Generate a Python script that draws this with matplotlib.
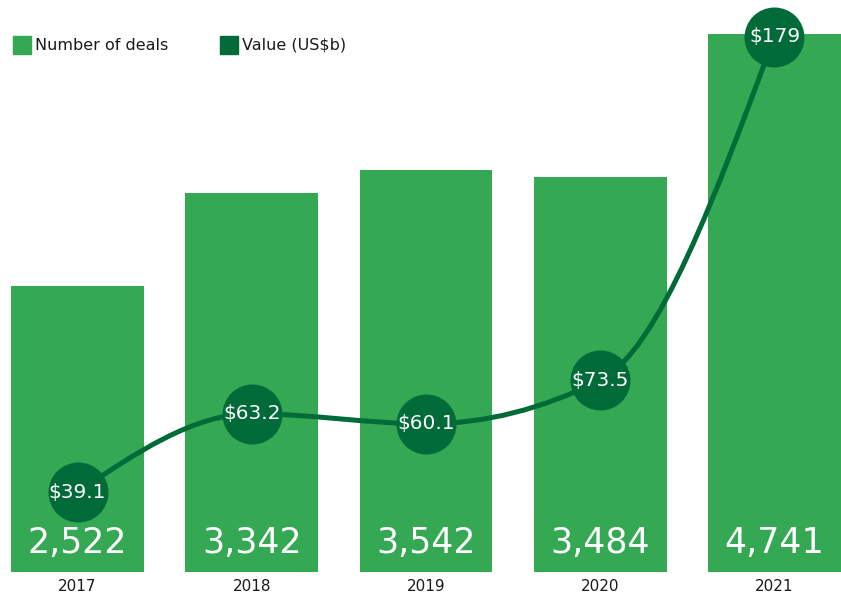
import matplotlib
matplotlib.use('Agg')
import matplotlib.pyplot as plt
from matplotlib.path import Path
from matplotlib.patches import PathPatch, Rectangle

years = ['2017', '2018', '2019', '2020', '2021']
deals = [2522, 3342, 3542, 3484, 4741]
values = [39.1, 63.2, 60.1, 73.5, 179]
value_labels = ['$39.1', '$63.2', '$60.1', '$73.5', '$179']
legend_labels = ['Number of deals', 'Value (US$b)']

LIGHT = '#34A853'
DARK = '#006B38'
TEXT = '#1a1a1a'
plt.rcParams['font.family'] = ['DejaVu Sans']

W, H = 841, 597
fig = plt.figure(figsize=(W / 100, H / 100), dpi=100)
ax = fig.add_axes([11 / W, 25 / H, 830 / W, 567 / H])
xs = list(range(len(years)))
ax.bar(xs, deals, width=0.763, color=LIGHT, zorder=1)
ax.set_xlim(-0.3817, 4.3817)
ax.set_ylim(0, 5000)
for s in ax.spines.values():
    s.set_visible(False)
ax.set_yticks([])
ax.set_xticks(xs)
ax.set_xticklabels(years, fontsize=11, color=TEXT)
ax.tick_params(axis='x', length=0, pad=5)

for i, d in zip(xs, deals):
    ax.annotate(f'{d:,}', xy=(i, 0), xytext=(0, 21), textcoords='offset points',
                ha='center', va='center', fontsize=25, color='white')

ax2 = ax.twinx()
ax2.set_ylim(14.6, 188.7)
ax2.set_axis_off()

# smooth monotone-x cubic curve through the data points (drawn as Bezier)
n = len(xs)
sl = [(values[i + 1] - values[i]) / (xs[i + 1] - xs[i]) for i in range(n - 1)]
m = [0.0] * n
for i in range(1, n - 1):
    s0, s1 = sl[i - 1], sl[i]
    if s0 * s1 <= 0:
        m[i] = 0.0
    else:
        p = (s0 + s1) / 2
        sgn = 1 if s0 > 0 else -1
        m[i] = 2 * sgn * min(abs(s0), abs(s1), 0.5 * abs(p))
m[0] = (3 * sl[0] - m[1]) / 2
m[-1] = (3 * sl[-1] - m[-2]) / 2
verts = [(xs[0], values[0])]
codes = [Path.MOVETO]
for i in range(n - 1):
    h = xs[i + 1] - xs[i]
    verts += [(xs[i] + h / 3, values[i] + m[i] * h / 3),
              (xs[i + 1] - h / 3, values[i + 1] - m[i + 1] * h / 3),
              (xs[i + 1], values[i + 1])]
    codes += [Path.CURVE4] * 3
ax2.add_patch(PathPatch(Path(verts, codes), facecolor='none', edgecolor=DARK,
                        lw=3.6, capstyle='round', zorder=2))
ax2.scatter(xs, values, s=1866, color=DARK, zorder=3, linewidths=0)
for i, v, lab in zip(xs, values, value_labels):
    ax2.text(i, v, lab, ha='center', va='center', fontsize=14.5, color='white', zorder=4)

# legend
for x0, col, lab in [(13, LIGHT, legend_labels[0]), (220, DARK, legend_labels[1])]:
    fig.add_artist(Rectangle((x0 / W, 1 - 54 / H), 18 / W, 18 / H, color=col,
                             transform=fig.transFigure))
    fig.text((x0 + 22) / W, 1 - 45 / H, lab, ha='left', va='center', fontsize=11.5, color=TEXT)

fig.savefig('out.png', dpi=100)
